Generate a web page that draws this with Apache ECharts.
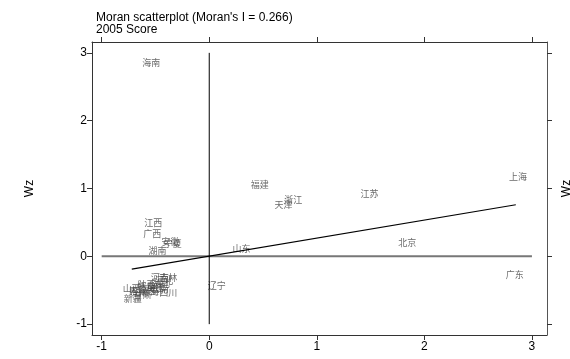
<!DOCTYPE html>
<html>
<head>
    <meta charset="utf-8">
    <title>Moran scatterplot</title>
    <script src="https://cdn.jsdelivr.net/npm/echarts@6/dist/echarts.min.js"></script>
    <style>
        html, body { margin: 0; padding: 0; background: #fff; }
        #main { width: 570px; height: 359px; }
    </style>
</head>
<body>
<div id="main"></div>
<script type="text/javascript">
    // province labels, z and Wz
    var provinces = ['海南', '福建', '浙江', '天津', '江苏', '上海', '北京', '广东', '山东', '辽宁',
        '江西', '广西', '安徽', '宁夏', '湖南', '河南', '吉林', '河北', '湖北', '四川',
        '山西', '新疆', '黑龙江', '重庆', '陕西', '内蒙古', '甘肃', '青海', '云南', '贵州'];
    var zValues = [-0.54, 0.47, 0.78, 0.69, 1.49, 2.87, 1.84, 2.84, 0.30, 0.07,
        -0.52, -0.53, -0.36, -0.34, -0.48, -0.46, -0.38, -0.42, -0.45, -0.38,
        -0.72, -0.71, -0.55, -0.50, -0.58, -0.62, -0.62, -0.55, -0.46, -0.66];
    var wzValues = [2.86, 1.06, 0.83, 0.77, 0.93, 1.17, 0.21, -0.27, 0.12, -0.43,
        0.50, 0.34, 0.22, 0.19, 0.09, -0.31, -0.32, -0.36, -0.40, -0.53,
        -0.47, -0.62, -0.46, -0.44, -0.42, -0.50, -0.56, -0.52, -0.47, -0.53];
    var xTicks = [-1, 0, 1, 2, 3];
    var yTicks = [-1, 0, 1, 2, 3];
    var vLine = [[0, -1], [0, 3]];
    var hLine = [[-1, 0], [3, 0]];
    var fitLine = [[-0.72, -0.19], [2.85, 0.76]];

    var points = provinces.map(function (p, i) {
        return [zValues[i], wzValues[i], p];
    });

    var chart = echarts.init(document.getElementById('main'));
    var tickStyle = { show: true, length: 5, lineStyle: { color: '#333' } };
    var option = {
        animation: false,
        title: {
            text: "Moran scatterplot (Moran's I = 0.266)\n2005 Score",
            left: 91,
            top: 7,
            textStyle: {
                fontFamily: 'Liberation Sans',
                fontWeight: 'normal',
                fontSize: 12,
                lineHeight: 12,
                color: '#000'
            }
        },
        grid: { left: 92, right: 23, top: 42, bottom: 24, outerBoundsMode: 'none', containLabel: false },
        xAxis: [
            {
                type: 'value', min: -1.09, max: 3.14, position: 'bottom',
                name: 'z', nameLocation: 'middle', nameGap: 22,
                nameTextStyle: { fontFamily: 'Liberation Sans', fontSize: 12, color: '#000' },
                splitLine: { show: false },
                axisLine: { onZero: false, lineStyle: { color: '#333' } },
                axisTick: Object.assign({ customValues: xTicks }, tickStyle),
                axisLabel: { customValues: xTicks, fontFamily: 'Liberation Sans', fontSize: 12, color: '#000', margin: 6 }
            },
            {
                type: 'value', min: -1.09, max: 3.14, position: 'top',
                splitLine: { show: false },
                axisLine: { onZero: false, lineStyle: { color: '#333' } },
                axisTick: Object.assign({ customValues: xTicks }, tickStyle),
                axisLabel: { show: false }
            }
        ],
        yAxis: [
            {
                type: 'value', min: -1.16, max: 3.16, position: 'left',
                name: 'Wz', nameLocation: 'middle', nameGap: 56, nameRotate: 90,
                nameTextStyle: { fontFamily: 'Liberation Sans', fontSize: 12, color: '#000' },
                splitLine: { show: false },
                axisLine: { onZero: false, lineStyle: { color: '#333' } },
                axisTick: Object.assign({ customValues: yTicks }, tickStyle),
                axisLabel: { customValues: yTicks, fontFamily: 'Liberation Sans', fontSize: 12, color: '#000', margin: 5 }
            },
            {
                type: 'value', min: -1.16, max: 3.16, position: 'right',
                name: 'Wz', nameLocation: 'middle', nameGap: 14, nameRotate: 90,
                nameTextStyle: { fontFamily: 'Liberation Sans', fontSize: 12, color: '#000' },
                splitLine: { show: false },
                axisLine: { onZero: false, lineStyle: { color: '#555' } },
                axisTick: Object.assign({ customValues: yTicks }, tickStyle),
                axisLabel: { show: false }
            }
        ],
        series: [
            {
                type: 'line', data: hLine, symbol: 'none',
                lineStyle: { color: '#777', width: 2 }
            },
            {
                type: 'line', data: vLine, symbol: 'none',
                lineStyle: { color: '#000', width: 1 }
            },
            {
                type: 'line', data: fitLine, symbol: 'none',
                lineStyle: { color: '#000', width: 1.2 }
            },
            {
                type: 'scatter', data: points, symbolSize: 0,
                label: {
                    show: true, position: 'inside',
                    formatter: function (p) { return p.data[2]; },
                    fontFamily: 'Noto Sans CJK SC', fontSize: 9, color: '#444'
                }
            }
        ]
    };
    chart.setOption(option);
</script>
</body>
</html>
